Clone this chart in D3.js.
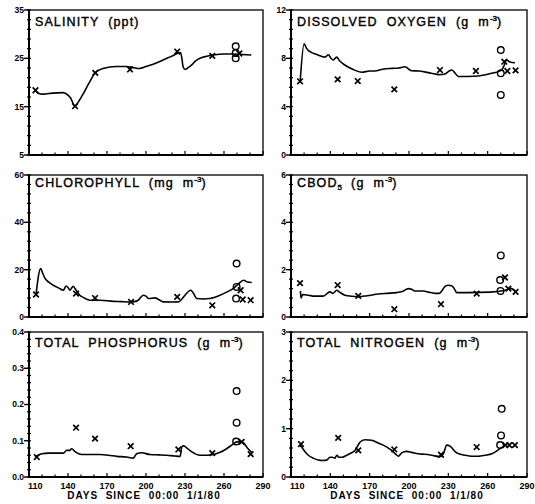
<!DOCTYPE html>
<html>
<head>
<meta charset="utf-8">
<script src="https://cdn.jsdelivr.net/npm/d3@7"></script>
<style>
  body { margin: 0; background: #fff; }
  svg { display: block; font-family: "Liberation Sans", Arial, sans-serif; }
  .title { font-size: 12.5px; letter-spacing: 1.1px; white-space: pre; stroke: #000; stroke-width: 0.4px; }
  .tick-label { font-size: 8.5px; font-weight: bold; }
  .xlabel { font-size: 10px; font-weight: bold; letter-spacing: 1px; white-space: pre; }
</style>
</head>
<body>
<div id="chart"></div>
<script>
// ---- data: [day, value] ----
var salinityModel = [[115,18.4],[117,17.8],[121,17.6],[128,17.8],[136,17.9],[140,17.4],[142,16.8],[145.4,15.1],[148,16.0],
  [152,17.8],[156,19.8],[161,22.0],[167,22.9],[177,23.3],[185,23.3],[190,23.1],[195,22.9],[200,23.3],[205.5,23.8],
  [211,24.4],[216,25.0],[221,25.6],[225,26.1],[226.5,26.2],[227.5,25.2],[228.5,23.3],[230,22.7],[232,23.0],[235,23.6],
  [238,24.4],[241.5,25.0],[246,25.4],[251.8,25.7],[260,25.9],[267,25.9],[274,25.8],[281,25.7]];
var salinityObs = [[115,18.4],[145.4,15.1],[161,22.0],[187.7,22.7],[224,26.4],[251,25.5],[271.8,26.0]];
var salinityCircles = [[269,27.5],[269,26.1],[269,25.0]];

var oxygenModel = [[117,6.1],[120,9.2],[122,8.8],[124.5,8.55],[130,8.3],[136,8.1],[138.5,8.3],[140.5,8.0],[142.3,7.86],
  [144.8,8.1],[147,7.8],[151,7.45],[157,7.1],[164,6.85],[170,6.95],[174,6.95],[180,7.1],[186.8,7.17],[192,7.2],
  [197,7.3],[202,6.97],[208,6.95],[217,6.76],[223,6.65],[227.5,6.7],[230,6.9],[232.6,7.03],[235,6.8],[237.6,6.5],
  [245,6.5],[253,6.54],[263,6.76],[270.7,7.03],[272.5,7.4],[274.5,7.86],[277,7.7],[280.8,7.64]];
var oxygenObs = [[116.9,6.1],[145.6,6.26],[160.9,6.12],[188.8,5.43],[223.6,7.03],[251,6.95],[272.7,7.72],[275,6.95],[281.3,7.0]];
var oxygenCircles = [[270,8.69],[270,6.76],[270,4.97]];

var chlorophyllModel = [[115.4,9.5],[119,20.5],[120.5,18.5],[122.3,16.3],[125,14.8],[128.7,13.4],[133,12.2],[136.4,11.3],
  [138.5,13.1],[140,12.5],[141.5,11.3],[144,13.0],[146,11.5],[149,9.2],[152,8.2],[157,7.1],[164.7,7.1],[175,6.6],
  [181,6.5],[187.7,6.35],[191,6.5],[194,7.1],[198,9.2],[200,8.8],[202,7.8],[207,8.1],[210,7.3],[213.3,6.4],[220,6.35],
  [225,6.4],[227.5,7.5],[230,9.2],[234.4,11.3],[236.5,10.0],[239,7.8],[244,7.6],[249,7.8],[257,9.2],[262,10.5],
  [267,12.0],[271,13.9],[275,15.5],[278,14.8],[281.3,14.6]];
var chlorophyllObs = [[115.4,9.5],[146.2,9.9],[160.8,8.0],[188.5,6.35],[224,8.5],[251,4.95],[272.8,11.3],[274.4,7.4],[280.5,7.1]];
var chlorophyllCircles = [[269.7,22.6],[269.7,12.7],[269.3,7.8]];

var cbodModel = [[117.2,1.1],[117.6,0.8],[119,0.95],[123.2,0.92],[128,0.88],[134.6,0.88],[139.7,1.06],[142,1.0],[144.9,1.13],
  [147,1.05],[151.2,0.92],[156,0.88],[161.3,0.86],[168,0.9],[176.6,0.97],[183,1.0],[190.6,1.03],[195,1.08],[199.5,1.2],
  [202,1.17],[204.5,1.1],[211,1.1],[215,1.05],[219.8,1.0],[223,1.0],[225,1.1],[227.5,1.29],[230,1.34],[232.5,1.32],
  [234.5,1.2],[236.4,1.03],[245,1.03],[262,1.05],[272.6,1.12],[278,1.2],[281.7,1.06]];
var cbodObs = [[116.9,1.43],[145.6,1.35],[161.3,0.89],[188.8,0.33],[224.4,0.54],[251.6,0.99],[273.2,1.67],[275.8,1.2],[281.3,1.06]];
var cbodCircles = [[270,2.6],[269.5,1.56],[269.8,1.1]];

var phosphorusModel = [[114.6,0.055],[117,0.06],[119.8,0.064],[125,0.066],[131,0.066],[136.7,0.066],[139,0.074],[141,0.073],
  [142.8,0.078],[145.4,0.07],[150.5,0.062],[157,0.062],[164.7,0.062],[171,0.06],[177.6,0.057],[185,0.055],[190.2,0.052],
  [192.8,0.064],[196.7,0.067],[203,0.062],[210,0.061],[216,0.06],[222,0.058],[226.3,0.057],[227.5,0.083],[229,0.086],
  [232,0.078],[235,0.07],[241.6,0.06],[247,0.06],[252,0.062],[257,0.068],[262,0.078],[266,0.088],[269.7,0.097],
  [273,0.098],[275,0.094],[278,0.08],[281.3,0.068]];
var phosphorusObs = [[116,0.055],[146.2,0.136],[160.8,0.106],[188.2,0.085],[224.9,0.076],[251,0.066],[273.6,0.097],[280.5,0.063]];
var phosphorusCircles = [[269.7,0.237],[269.7,0.15],[269.3,0.098]];

var nitrogenModel = [[116.9,0.66],[120,0.55],[123.2,0.45],[127,0.39],[130.8,0.35],[134,0.34],[137.2,0.35],[139.7,0.41],
  [141.5,0.41],[143.5,0.39],[145,0.45],[146.5,0.41],[149,0.41],[152.5,0.45],[155.5,0.49],[158.8,0.55],[162.6,0.72],
  [166.4,0.77],[171.5,0.76],[176,0.71],[180.4,0.66],[186.8,0.55],[190,0.47],[191.9,0.43],[194.4,0.5],[198.2,0.53],
  [202,0.51],[207,0.48],[212,0.47],[217.3,0.45],[223.6,0.42],[226.2,0.48],[228.8,0.66],[231.3,0.64],[234,0.56],
  [236.4,0.5],[242.8,0.45],[248,0.43],[253,0.43],[258,0.45],[263.2,0.48],[267,0.54],[270.7,0.62]];
var nitrogenObs = [[117.6,0.68],[146,0.81],[161.3,0.55],[188.8,0.57],[224.4,0.46],[251.6,0.62],[273.5,0.66],[276.5,0.66],[280.8,0.66]];
var nitrogenCircles = [[270.7,1.41],[270.2,0.86],[269.5,0.66]];

// axis ticks
var dayTicks = [110, 140, 170, 200, 230, 260, 290];
var xTitle = "DAYS  SINCE  00:00  1/1/80";

// titles: [text, 0 normal / 1 superscript / -1 subscript]
var salinityTitle = [["SALINITY  (ppt)", 0]];
var oxygenTitle = [["DISSOLVED  OXYGEN  (g  m", 0], ["-3", 1], [")", 0]];
var chlorophyllTitle = [["CHLOROPHYLL  (mg  m", 0], ["-3", 1], [")", 0]];
var cbodTitle = [["CBOD", 0], ["5", -1], ["  (g  m", 0], ["-3", 1], [")", 0]];
var phosphorusTitle = [["TOTAL  PHOSPHORUS  (g  m", 0], ["-3", 1], [")", 0]];
var nitrogenTitle = [["TOTAL  NITROGEN  (g  m", 0], ["-3", 1], [")", 0]];

var salinityTicks = [5, 15, 25, 35];
var oxygenTicks = [0, 4, 8, 12];
var chlorophyllTicks = [0, 20, 40, 60];
var cbodTicks = [0, 2, 4, 6];
var phosphorusTicks = [0, 0.1, 0.2, 0.3, 0.4];
var nitrogenTicks = [0, 1, 2, 3];

// ---- layout ----
var cols = [[29, 263], [291, 527]];
var rows = [[10, 155], [175, 317], [332, 477]];
var titleDy = [16, 12, 15];

var panels = [
  { col: 0, row: 0, title: salinityTitle, ticks: salinityTicks, fmt: d3.format("d"), model: salinityModel, obs: salinityObs, circ: salinityCircles },
  { col: 1, row: 0, title: oxygenTitle, ticks: oxygenTicks, fmt: d3.format("d"), model: oxygenModel, obs: oxygenObs, circ: oxygenCircles },
  { col: 0, row: 1, title: chlorophyllTitle, ticks: chlorophyllTicks, fmt: d3.format("d"), model: chlorophyllModel, obs: chlorophyllObs, circ: chlorophyllCircles },
  { col: 1, row: 1, title: cbodTitle, ticks: cbodTicks, fmt: d3.format("d"), model: cbodModel, obs: cbodObs, circ: cbodCircles },
  { col: 0, row: 2, title: phosphorusTitle, ticks: phosphorusTicks, fmt: d3.format(".1f"), model: phosphorusModel, obs: phosphorusObs, circ: phosphorusCircles },
  { col: 1, row: 2, title: nitrogenTitle, ticks: nitrogenTicks, fmt: d3.format("d"), model: nitrogenModel, obs: nitrogenObs, circ: nitrogenCircles }
];

var svg = d3.select("#chart").append("svg")
  .attr("width", 535)
  .attr("height", 504);

panels.forEach(function(p) {
  var x0 = cols[p.col][0], x1 = cols[p.col][1];
  var y0 = rows[p.row][0], y1 = rows[p.row][1];

  var x = d3.scaleLinear().domain([110, 290]).range([x0, x1]);
  var y = d3.scaleLinear().domain([p.ticks[0], p.ticks[p.ticks.length - 1]]).range([y1, y0]);

  var g = svg.append("g");

  // minor ticks
  var step = p.ticks[1] - p.ticks[0];
  var yMinor = d3.range(p.ticks[0], p.ticks[p.ticks.length - 1] + step / 10, step / 5);
  g.selectAll(".ymin").data(yMinor).enter().append("line")
    .attr("x1", x0 - 2).attr("x2", x0 + 2)
    .attr("y1", function(d) { return y(d) }).attr("y2", function(d) { return y(d) })
    .attr("stroke", "#000").attr("stroke-width", 1.2);

  g.selectAll(".ymaj").data(p.ticks).enter().append("line")
    .attr("x1", x0 - 5).attr("x2", x0)
    .attr("y1", function(d) { return y(d) }).attr("y2", function(d) { return y(d) })
    .attr("stroke", "#000").attr("stroke-width", 1.4);

  g.selectAll(".ylab").data(p.ticks).enter().append("text")
    .attr("class", "tick-label")
    .attr("x", x0 - 5).attr("y", function(d) { return y(d) })
    .attr("dy", "0.35em")
    .attr("text-anchor", "end")
    .text(function(d) { return p.fmt(d) });

  var xMinor = d3.range(110, 291, 10);
  g.selectAll(".xmin").data(xMinor).enter().append("line")
    .attr("x1", function(d) { return x(d) }).attr("x2", function(d) { return x(d) })
    .attr("y1", y1).attr("y2", function(d) { return dayTicks.indexOf(d) >= 0 ? y1 - 4 : y1 - 2.5 })
    .attr("stroke", "#000").attr("stroke-width", 1.2);

  if (p.row == 2) {
    g.selectAll(".xlab").data(dayTicks).enter().append("text")
      .attr("class", "tick-label")
      .style("font-size", "9px")
      .attr("x", function(d, i) { return i == 0 ? x(d) - 1 : x(d) })
      .attr("y", y1 + 12)
      .attr("text-anchor", function(d, i) { return i == 0 ? "start" : "middle" })
      .text(function(d) { return d });

    g.append("text")
      .attr("class", "xlabel")
      .attr("x", (x0 + x1) / 2 - 2)
      .attr("y", 499)
      .attr("text-anchor", "middle")
      .text(xTitle);
  }

  // frame
  g.append("rect")
    .attr("x", x0).attr("y", y0)
    .attr("width", x1 - x0).attr("height", y1 - y0)
    .attr("fill", "none").attr("stroke", "#000").attr("stroke-width", 1.3);
  g.append("path")
    .attr("d", "M" + x0 + "," + y0 + "V" + y1 + "H" + x1)
    .attr("fill", "none").attr("stroke", "#000").attr("stroke-width", 2);

  // title
  var t = g.append("text").attr("class", "title")
    .attr("x", x0 + 6).attr("y", y0 + titleDy[p.row]);
  var shift = 0;
  p.title.forEach(function(part) {
    var off = part[1] == 1 ? -5 : (part[1] == -1 ? 3 : 0);
    t.append("tspan")
      .attr("dy", off - shift)
      .style("font-size", part[1] ? "8px" : null)
      .style("letter-spacing", part[1] ? "0px" : null)
      .text(part[0]);
    shift = off;
  });

  // model line
  var line = d3.line()
    .x(function(d) { return x(d[0]) })
    .y(function(d) { return y(d[1]) })
    .curve(d3.curveMonotoneX);

  g.append("path")
    .datum(p.model)
    .attr("d", line)
    .attr("fill", "none")
    .attr("stroke", "#000")
    .attr("stroke-width", 1.6);

  // observations
  g.selectAll(".obs").data(p.obs).enter().append("path")
    .attr("d", function(d) {
      var cx = x(d[0]), cy = y(d[1]), s = 2.8;
      return "M" + (cx - s) + "," + (cy - s) + "L" + (cx + s) + "," + (cy + s) +
        "M" + (cx - s) + "," + (cy + s) + "L" + (cx + s) + "," + (cy - s);
    })
    .attr("stroke", "#000")
    .attr("stroke-width", 1.7)
    .attr("fill", "none");

  g.selectAll(".circ").data(p.circ).enter().append("circle")
    .attr("cx", function(d) { return x(d[0]) })
    .attr("cy", function(d) { return y(d[1]) })
    .attr("r", 3.3)
    .attr("fill", "none")
    .attr("stroke", "#000")
    .attr("stroke-width", 1.4);
});
</script>
</body>
</html>
